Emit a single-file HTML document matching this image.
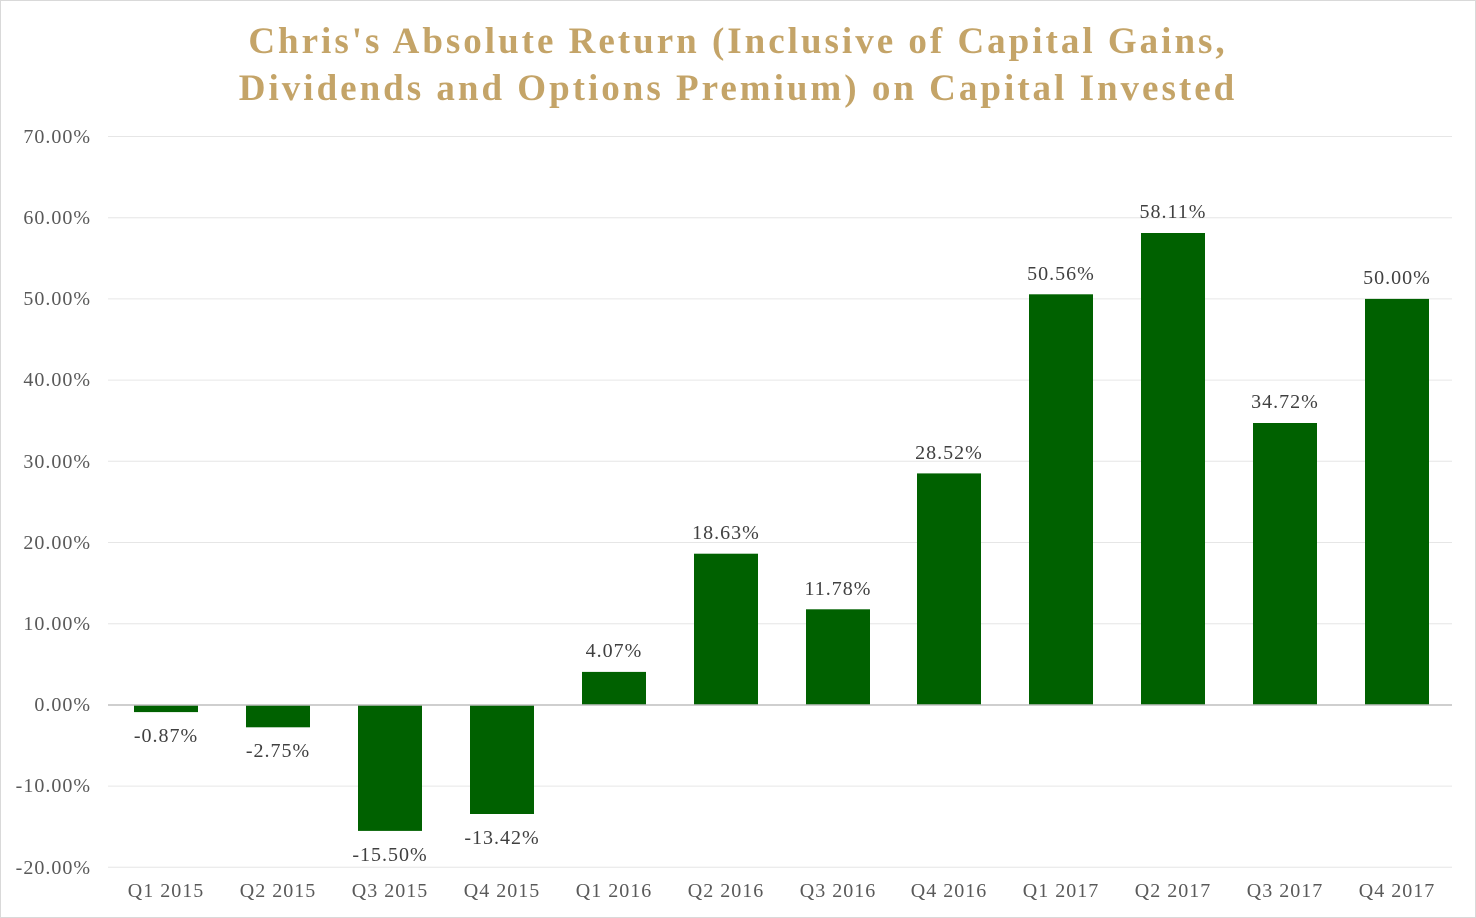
<!DOCTYPE html>
<html><head><meta charset="utf-8"><style>
html,body{margin:0;padding:0;background:#fff;}
svg{display:block;}
</style></head><body>
<svg width="1476" height="918" xmlns="http://www.w3.org/2000/svg" font-family="'Liberation Serif', serif">
<rect x="0.5" y="0.5" width="1475" height="917" fill="#fff" stroke="#d9d9d9"/>
<g fill="#C4A468" font-weight="bold" font-size="37" text-anchor="middle" letter-spacing="3">
<text x="738" y="53">Chris's Absolute Return (Inclusive of Capital Gains,</text>
<text x="738" y="100">Dividends and Options Premium) on Capital Invested</text>
</g>
<g stroke="#e6e6e6" stroke-width="1">
<line x1="108" x2="1452" y1="136.5" y2="136.5"/>
<line x1="108" x2="1452" y1="217.7" y2="217.7"/>
<line x1="108" x2="1452" y1="298.9" y2="298.9"/>
<line x1="108" x2="1452" y1="380.1" y2="380.1"/>
<line x1="108" x2="1452" y1="461.3" y2="461.3"/>
<line x1="108" x2="1452" y1="542.5" y2="542.5"/>
<line x1="108" x2="1452" y1="623.7" y2="623.7"/>
<line x1="108" x2="1452" y1="786.1" y2="786.1"/>
<line x1="108" x2="1452" y1="867.3" y2="867.3"/>
</g>
<g fill="#595959" font-size="20" letter-spacing="1" text-anchor="end">
<text x="91" y="143">70.00%</text>
<text x="91" y="224">60.00%</text>
<text x="91" y="305">50.00%</text>
<text x="91" y="386">40.00%</text>
<text x="91" y="468">30.00%</text>
<text x="91" y="549">20.00%</text>
<text x="91" y="630">10.00%</text>
<text x="91" y="711">0.00%</text>
<text x="91" y="792">-10.00%</text>
<text x="91" y="874">-20.00%</text>
</g>
<g fill="#006100">
<rect x="134" y="705" width="64" height="7.1"/>
<rect x="246" y="705" width="64" height="22.3"/>
<rect x="358" y="705" width="64" height="125.9"/>
<rect x="470" y="705" width="64" height="109"/>
<rect x="582" y="671.9" width="64" height="33.1"/>
<rect x="694" y="553.7" width="64" height="151.3"/>
<rect x="806" y="609.3" width="64" height="95.7"/>
<rect x="917" y="473.4" width="64" height="231.6"/>
<rect x="1029" y="294.3" width="64" height="410.7"/>
<rect x="1141" y="233" width="64" height="472"/>
<rect x="1253" y="423" width="64" height="282"/>
<rect x="1365" y="298.9" width="64" height="406.1"/>
</g>
<line x1="108" x2="1452" y1="705" y2="705" stroke="#bfbfbf" stroke-width="1.5"/>
<g fill="#404040" font-size="20" letter-spacing="1" text-anchor="middle">
<text x="166" y="742">-0.87%</text>
<text x="278" y="757">-2.75%</text>
<text x="390" y="861">-15.50%</text>
<text x="502" y="844">-13.42%</text>
<text x="614" y="657">4.07%</text>
<text x="726" y="539">18.63%</text>
<text x="838" y="595">11.78%</text>
<text x="949" y="459">28.52%</text>
<text x="1061" y="280">50.56%</text>
<text x="1173" y="218">58.11%</text>
<text x="1285" y="408">34.72%</text>
<text x="1397" y="284">50.00%</text>
</g>
<g fill="#595959" font-size="20" letter-spacing="1" text-anchor="middle">
<text x="166" y="897">Q1 2015</text>
<text x="278" y="897">Q2 2015</text>
<text x="390" y="897">Q3 2015</text>
<text x="502" y="897">Q4 2015</text>
<text x="614" y="897">Q1 2016</text>
<text x="726" y="897">Q2 2016</text>
<text x="838" y="897">Q3 2016</text>
<text x="949" y="897">Q4 2016</text>
<text x="1061" y="897">Q1 2017</text>
<text x="1173" y="897">Q2 2017</text>
<text x="1285" y="897">Q3 2017</text>
<text x="1397" y="897">Q4 2017</text>
</g>
</svg>
</body></html>
